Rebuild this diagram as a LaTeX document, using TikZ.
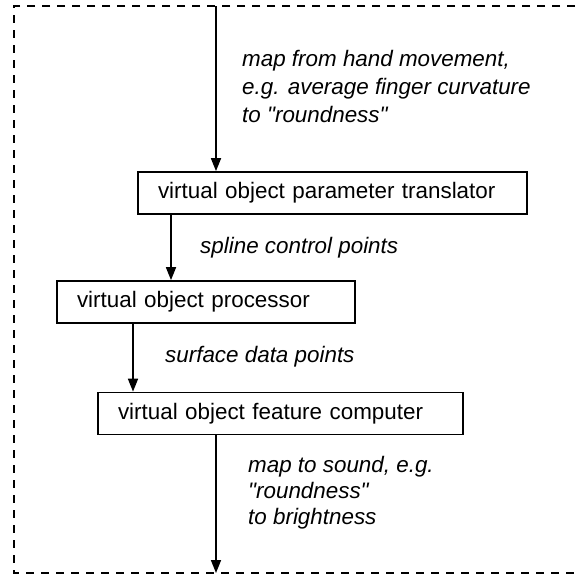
\documentclass[tikz,border=0pt]{standalone}
\usepackage{fontspec}
\setmainfont{Liberation Sans}[Ligatures=TeXOff]
\usetikzlibrary{arrows.meta}
\begin{document}
\begin{tikzpicture}[x=1pt,y=-1pt,
  every node/.style={font=\fontsize{22.4}{28}\selectfont},
  stagebox/.style={draw, line width=1.7pt, rectangle, minimum height=42pt, align=left, inner xsep=20pt, inner ysep=0pt},
  flow/.style={line width=1.7pt, -{Triangle[length=13pt,width=10pt]}},
  note/.style={anchor=base west, inner sep=0pt, align=left, font=\fontsize{22.4}{28}\selectfont\itshape},
  frame/.style={line width=1.7pt, dash pattern=on 8pt off 7pt}
]
\useasboundingbox (0,0) rectangle (578,576);
\clip (0,0) rectangle (578,576);
\draw[frame] (590,6) -- (14,6) -- (14,573) -- (590,573);

\coordinate (src) at (216,6);
\coordinate (sink) at (216,573);

\node[stagebox, text width=349pt] (b1) at (332.5,193) {virtual object parameter translator};
\node[stagebox, text width=258pt] (b2) at (206,302) {virtual object processor};
\node[stagebox, text width=325pt] (b3) at (280.5,413.5) {virtual object feature computer};

\draw[flow] (src) -- (src |- b1.north);
\draw[flow] (b1.south -| 171,0) -- (b2.north -| 171,0);
\draw[flow] (b2.south -| 133,0) -- (b3.north -| 133,0);
\draw[flow] (b3.south -| sink) -- (sink);

\node[note] (n1) at (242,122) {map from hand movement,\\e.g. average finger curvature\\to "roundness"};
\node[note] (n2) at (200,253) {spline control points};
\node[note] (n3) at (165,362) {surface data points};
\node[note, font=\fontsize{22.4}{26}\selectfont\itshape] (n4) at (248,524) {map to sound, e.g.\\"roundness"\\to brightness};
\end{tikzpicture}
\end{document}
